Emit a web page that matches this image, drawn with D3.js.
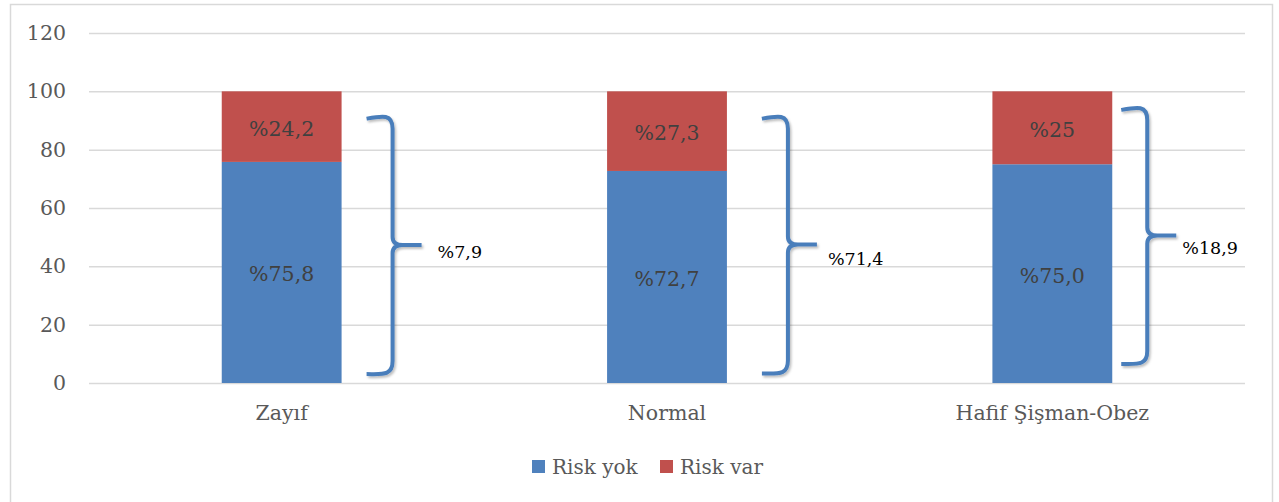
<!DOCTYPE html>
<html>
<head>
<meta charset="utf-8">
<script src="https://cdn.jsdelivr.net/npm/d3@7"></script>
<style>
  html, body { margin: 0; padding: 0; background: #fff; }
  svg { display: block; }
  text { font-family: "DejaVu Serif", "Liberation Serif", serif; }
</style>
</head>
<body>
<svg id="chart" width="1279" height="502"></svg>
<script>
// BMI groups and the share of each risk status (%)
const categories = ["Zayıf", "Normal", "Hafif Şişman-Obez"];
const riskYok = [75.8, 72.7, 75.0];
const riskVar = [24.2, 27.3, 25];
const riskYokLabels = ["%75,8", "%72,7", "%75,0"];
const riskVarLabels = ["%24,2", "%27,3", "%25"];
const seriesNames = ["Risk yok", "Risk var"];
const yTicks = [0, 20, 40, 60, 80, 100, 120];
// bracket notes beside each bar, with the value span each bracket covers
const groupNotes = ["%7,9", "%71,4", "%18,9"];
const braceLow = [3.4, 3.6, 6.9];
const braceHigh = [91.3, 91.3, 94.3];

// layout: gap between bar and bracket spine, placement of each note
const braceGap = [51, 61, 35];
const noteDx = [45, 40, 35];
const noteDy = [7, 14, 13];

const colors = { yok: "#4f81bd", var: "#c0504d", brace: "#4a7ebb" };

const svg = d3.select("#chart");
const W = 1279, H = 502;
const plot = { left: 89, right: 1245, top: 33, bottom: 383 };

// outer frame
svg.append("path")
  .attr("d", `M10.5,${H + 2} V4.5 H1272.5 V${H + 2}`)
  .attr("fill", "none").attr("stroke", "#d9d9d9").attr("stroke-width", 1.5);

const x = d3.scaleBand().domain(categories)
  .range([plot.left, plot.right])
  .paddingInner(0.689).paddingOuter(0.3445);
const y = d3.scaleLinear().domain([0, 120]).range([plot.bottom, plot.top]);

// gridlines + value axis labels
const yAxis = d3.axisLeft(y).tickValues(yTicks).tickSize(-(plot.right - plot.left)).tickPadding(23);
const gy = svg.append("g").attr("transform", `translate(${plot.left},0)`).call(yAxis);
gy.select(".domain").remove();
gy.selectAll(".tick line").attr("stroke", "#d9d9d9").attr("stroke-width", 1.5);
gy.selectAll(".tick text")
  .attr("fill", "#595959").style("font-size", "20.5px")
  .style("font-family", "DejaVu Serif, serif");

// category axis labels
const xAxis = d3.axisBottom(x).tickSize(0).tickPadding(22);
const gx = svg.append("g").attr("transform", `translate(0,${plot.bottom})`).call(xAxis);
gx.select(".domain").remove();
gx.selectAll(".tick text")
  .attr("fill", "#595959").style("font-size", "20.5px")
  .style("font-family", "DejaVu Serif, serif");

// stacked bars
const rows = categories.map((c, i) => ({ c, yok: riskYok[i], var: riskVar[i], i }));
const stack = d3.stack().keys(["yok", "var"])(rows);
const labelSets = { yok: riskYokLabels, var: riskVarLabels };

stack.forEach(layer => {
  const key = layer.key;
  svg.append("g").selectAll("rect").data(layer).join("rect")
    .attr("x", d => x(d.data.c))
    .attr("width", x.bandwidth())
    .attr("y", d => y(d[1]))
    .attr("height", d => y(d[0]) - y(d[1]))
    .attr("fill", colors[key]);
  svg.append("g").selectAll("text").data(layer).join("text")
    .attr("x", d => x(d.data.c) + x.bandwidth() / 2)
    .attr("y", d => (y(d[0]) + y(d[1])) / 2 + 2)
    .attr("text-anchor", "middle")
    .attr("dominant-baseline", "central")
    .attr("fill", "#404040")
    .style("font-size", "20.5px")
    .text(d => labelSets[key][d.data.i]);
});

// drop shadow for brackets
const defs = svg.append("defs");
const f = defs.append("filter").attr("id", "shadow").attr("x", "-50%").attr("y", "-10%").attr("width", "200%").attr("height", "120%");
f.append("feDropShadow").attr("dx", 1.5).attr("dy", 2).attr("stdDeviation", 1.2)
  .attr("flood-color", "#000").attr("flood-opacity", 0.25);

// curly brackets with notes
categories.forEach((c, i) => {
  const s = x(c) + x.bandwidth() + braceGap[i];
  const top = y(braceHigh[i]);
  const bot = y(braceLow[i]);
  const mid = (top + bot) / 2;
  const d = [
    `M${s - 26},${top + 2}`,
    `C${s - 10},${top - 1} ${s},${top - 3} ${s},${top + 12}`,
    `L${s},${mid - 8}`,
    `Q${s},${mid} ${s + 10},${mid}`,
    `L${s + 29},${mid}`,
    `M${s + 10},${mid}`,
    `Q${s},${mid} ${s},${mid + 8}`,
    `L${s},${bot - 12}`,
    `C${s},${bot + 3} ${s - 10},${bot + 1} ${s - 26},${bot + 1}`
  ].join(" ");
  svg.append("path").attr("d", d)
    .attr("fill", "none").attr("stroke", colors.brace)
    .attr("stroke-width", 4).attr("stroke-linejoin", "round")
    .attr("filter", "url(#shadow)");
  svg.append("text")
    .attr("x", s + noteDx[i]).attr("y", mid + noteDy[i])
    .attr("dominant-baseline", "central")
    .attr("fill", "#000").style("font-size", "17.5px")
    .text(groupNotes[i]);
});

// legend
const legend = svg.append("g").attr("transform", "translate(532,460)");
const lgItems = [
  { name: seriesNames[0], color: colors.yok, dx: 0 },
  { name: seriesNames[1], color: colors.var, dx: 128 }
];
lgItems.forEach(it => {
  const g = legend.append("g").attr("transform", `translate(${it.dx},0)`);
  g.append("rect").attr("width", 13).attr("height", 13).attr("fill", it.color);
  g.append("text").attr("x", 20).attr("y", 7).attr("dominant-baseline", "central")
    .attr("fill", "#595959").style("font-size", "20px").text(it.name);
});
</script>
</body>
</html>
